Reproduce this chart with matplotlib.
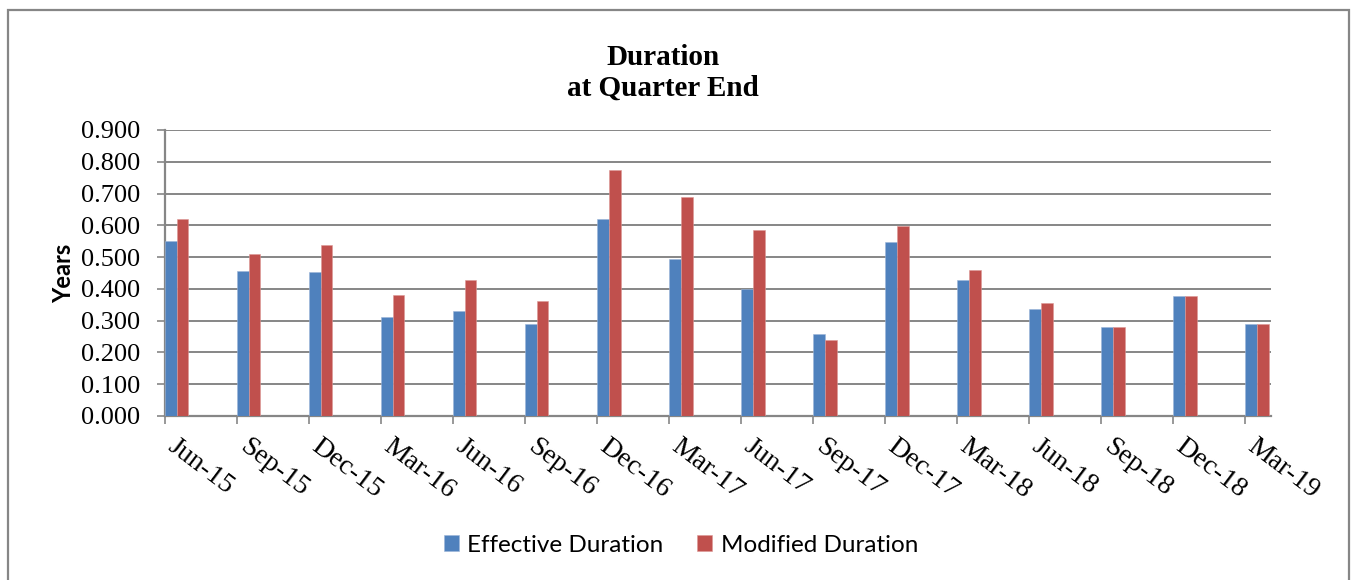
import matplotlib
matplotlib.use("Agg")
import matplotlib.pyplot as plt
import matplotlib.transforms as mtransforms
from matplotlib.patches import Rectangle
import numpy as np

categories = ["Jun-15", "Sep-15", "Dec-15", "Mar-16", "Jun-16", "Sep-16", "Dec-16", "Mar-17",
              "Jun-17", "Sep-17", "Dec-17", "Mar-18", "Jun-18", "Sep-18", "Dec-18", "Mar-19"]
effective_duration = [0.552, 0.457, 0.452, 0.310, 0.331, 0.288, 0.619, 0.493,
                      0.400, 0.257, 0.548, 0.428, 0.336, 0.280, 0.379, 0.290]
modified_duration = [0.620, 0.511, 0.537, 0.382, 0.427, 0.362, 0.774, 0.688,
                     0.584, 0.238, 0.598, 0.458, 0.356, 0.280, 0.379, 0.290]
y_ticks = [0.0, 0.1, 0.2, 0.3, 0.4, 0.5, 0.6, 0.7, 0.8, 0.9]

blue = "#4F81BD"
red = "#C0504D"
grid = "#868686"

fig = plt.figure(figsize=(13.51, 5.80), dpi=100)
fig.patch.set_facecolor("white")
fig.patches.append(Rectangle((8 / 1351, -0.01), (1349 - 8) / 1351, 1 - 10 / 580 + 0.01,
                             transform=fig.transFigure, fill=False, edgecolor=grid, lw=1.6))

ax = fig.add_axes([165 / 1351, 1 - 416 / 580, (1271 - 165) / 1351, (416 - 130) / 580])
x = np.arange(len(categories))
w = 0.163
ax.bar(x, effective_duration, width=w, align="edge", color=blue, label="Effective Duration",
       zorder=3, edgecolor="#9db6d8", linewidth=0.4)
ax.bar(x + w, modified_duration, width=w, align="edge", color=red, label="Modified Duration",
       zorder=3, edgecolor="#dc9896", linewidth=0.4)

ax.set_xlim(0, 15.36)
ax.set_ylim(0, 0.9)
ax.set_yticks(y_ticks)
ax.set_yticklabels([f"{v:.3f}" for v in y_ticks], fontfamily="Liberation Serif", fontsize=19)
ax.yaxis.grid(True, color=grid, lw=1.4, zorder=0)
for s in ["top", "right"]:
    ax.spines[s].set_visible(False)
for s in ["left", "bottom"]:
    ax.spines[s].set_color(grid)
    ax.spines[s].set_linewidth(1.6)
ax.tick_params(axis="y", length=6, width=1.2, color=grid, pad=12)
ax.tick_params(axis="x", length=6, width=1.2, color=grid, pad=6)

ax.set_xticks(x)
ax.set_xticklabels(categories, fontfamily="Liberation Serif", fontsize=20,
                   rotation=-37, ha="left", va="top", rotation_mode="anchor")
offset = mtransforms.ScaledTranslation(0.13, -0.01, fig.dpi_scale_trans)
for lbl in ax.get_xticklabels():
    lbl.set_transform(lbl.get_transform() + offset)

ax.set_ylabel("Years", fontfamily="Lato", fontweight="bold", fontsize=17, labelpad=4)

fig.text(663 / 1351, 1 - 73 / 580, "Duration\nat Quarter End", ha="center", va="center",
         fontfamily="Liberation Serif", fontweight="bold", fontsize=21, linespacing=1.2)

leg = fig.legend(loc="center", bbox_to_anchor=(681 / 1351, 1 - 545 / 580), ncol=2, frameon=False,
                 prop={"family": "Lato", "size": 17.5}, handlelength=0.6, handleheight=0.6,
                 handletextpad=0.35, columnspacing=1.4)

fig.savefig("out.png", dpi=100)
